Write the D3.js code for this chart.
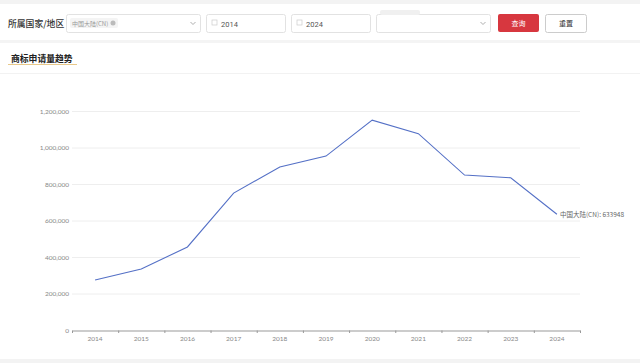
<!DOCTYPE html>
<html><head><meta charset="utf-8">
<script src="https://cdn.jsdelivr.net/npm/d3@7"></script>
<style>
html,body{margin:0;padding:0;background:#fff;width:640px;height:363px;overflow:hidden;font-family:"Noto Sans CJK SC","Noto Sans",sans-serif;}
</style></head>
<body><svg id="c" width="640" height="363"></svg>
<script>
const years = ["2014","2015","2016","2017","2018","2019","2020","2021","2022","2023","2024"];
const values = [274000, 334000, 455000, 750000, 893000, 953000, 1150000, 1076000, 849000, 834000, 633948];
const yTicks = [0, 200000, 400000, 600000, 800000, 1000000, 1200000];
const seriesName = "中国大陆(CN)";
const cjk = '"Noto Sans CJK SC", sans-serif';
const svg = d3.select("#c");

// page bands
svg.append("rect").attr("x",0).attr("y",0).attr("width",640).attr("height",4).attr("fill","#f3f3f3");
svg.append("rect").attr("x",0).attr("y",40).attr("width",640).attr("height",3).attr("fill","#f4f4f4");
svg.append("rect").attr("x",0).attr("y",73).attr("width",640).attr("height",1).attr("fill","#f2f2f2");
svg.append("rect").attr("x",0).attr("y",359).attr("width",640).attr("height",4).attr("fill","#f3f3f3");

// filter bar
svg.append("text").attr("x",8).attr("y",26.5).attr("font-family",cjk).attr("font-size",8.8).attr("font-weight",500).attr("fill","#333").text("所属国家/地区");
function box(x,w){ svg.append("rect").attr("x",x+0.5).attr("y",14.5).attr("width",w).attr("height",18).attr("rx",2).attr("fill","#fff").attr("stroke","#e2e2e2"); }
box(66,134);
svg.append("rect").attr("x",70).attr("y",18).attr("width",48).attr("height",10).attr("rx",2).attr("fill","#f4f4f4");
svg.append("text").attr("x",72).attr("y",25.5).attr("font-family",cjk).attr("font-size",6).attr("fill","#999").text(seriesName);
svg.append("circle").attr("cx",113).attr("cy",23).attr("r",2.5).attr("fill","#bbb");
function chevron(x){ svg.append("path").attr("d",`M${x-2.5},${22} L${x},${24.5} L${x+2.5},${22}`).attr("fill","none").attr("stroke","#999").attr("stroke-width",0.8); }
chevron(193);
box(206,79);
box(291,79);
function cal(x){ svg.append("rect").attr("x",x).attr("y",20).attr("width",5).attr("height",5).attr("fill","none").attr("stroke","#ccc").attr("stroke-width",0.7); }
cal(212); cal(297);
svg.append("text").attr("x",221).attr("y",26.5).attr("font-family","Roboto, sans-serif").attr("font-size",7.5).attr("fill","#555").text(years[0]);
svg.append("text").attr("x",306).attr("y",26.5).attr("font-family","Roboto, sans-serif").attr("font-size",7.5).attr("fill","#555").text(years[years.length-1]);
box(376,114);
svg.append("rect").attr("x",380).attr("y",10).attr("width",40).attr("height",5).attr("rx",2).attr("fill","#f0f0f0");
chevron(483);
svg.append("rect").attr("x",498).attr("y",14).attr("width",41).attr("height",18).attr("rx",2).attr("fill","#d7373f");
svg.append("text").attr("x",518.5).attr("y",26).attr("text-anchor","middle").attr("font-family",cjk).attr("font-size",7).attr("fill","#fff").text("查询");
svg.append("rect").attr("x",545.5).attr("y",14.5).attr("width",41).attr("height",18).attr("rx",2).attr("fill","#fff").attr("stroke","#ccc");
svg.append("text").attr("x",566).attr("y",26).attr("text-anchor","middle").attr("font-family",cjk).attr("font-size",7).attr("fill","#333").text("重置");

// section title
svg.append("text").attr("x",11).attr("y",61.5).attr("font-family",cjk).attr("font-size",8.8).attr("font-weight",700).attr("fill","#222").text("商标申请量趋势");
svg.append("rect").attr("x",8).attr("y",64).attr("width",69).attr("height",1).attr("fill","#e8c98a");

// chart
const x = d3.scaleBand().domain(years).range([72,580]);
const y = d3.scaleLinear().domain([0,1200000]).range([330,111]);
const g = svg.append("g");
g.selectAll("line.grid").data(yTicks.slice(1)).join("line").attr("class","grid")
 .attr("x1",72).attr("x2",580).attr("y1",d=>y(d)+0.5).attr("y2",d=>y(d)+0.5).attr("stroke","#eeeeee");
const yAxis = g.append("g").attr("transform","translate(72,0)")
 .call(d3.axisLeft(y).tickValues(yTicks).tickSize(0).tickPadding(3).tickFormat(d3.format(",")));
yAxis.select(".domain").remove();
yAxis.selectAll("text").attr("font-family","Lato, sans-serif").attr("font-size",6.5).attr("fill","#888");
const xAxis = g.append("g").attr("transform","translate(0,330.5)")
 .call(d3.axisBottom(x).tickSizeOuter(0).tickSize(0).tickPadding(6));
xAxis.select(".domain").attr("stroke","#999");
xAxis.selectAll("text").attr("font-family","Lato, sans-serif").attr("font-size",6.5).attr("fill","#888");
// boundary ticks
const bounds = years.map(d=>x(d)).concat([x.range()[1]]);
g.selectAll("line.bt").data(bounds).join("line").attr("class","bt")
 .attr("x1",d=>d+0.5).attr("x2",d=>d+0.5).attr("y1",330.5).attr("y2",333).attr("stroke","#999");

const line = d3.line().x((d,i)=>x(years[i])+x.bandwidth()/2).y(d=>y(d));
g.append("path").datum(values).attr("d",line).attr("fill","none").attr("stroke","#5470c6").attr("stroke-width",1.1);
const last = values.length-1;
g.append("text").attr("x",x(years[last])+x.bandwidth()/2+3).attr("y",y(values[last])+2.5)
 .attr("font-family",cjk).attr("font-size",6.5).attr("fill","#666").text(seriesName+": "+values[last]);
</script></body></html>
